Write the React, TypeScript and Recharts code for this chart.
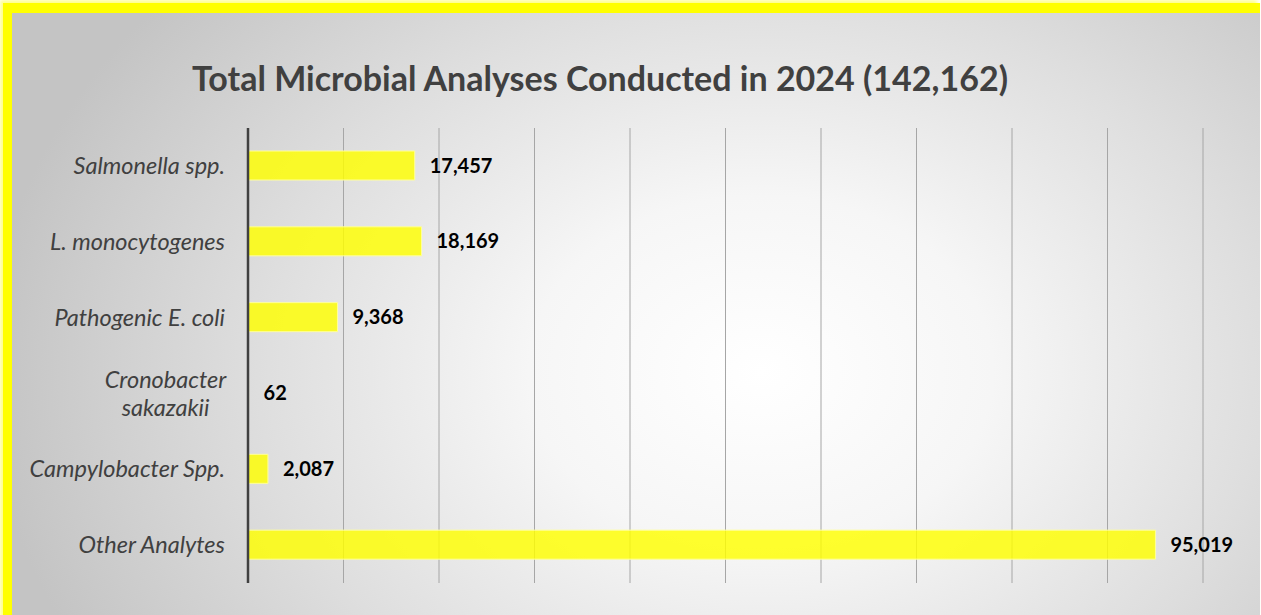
import { Bar, BarChart, CartesianGrid, LabelList, XAxis, YAxis } from 'recharts';

const categories = [
  'Salmonella spp.',
  'L. monocytogenes',
  'Pathogenic E. coli',
  'Cronobacter sakazakii',
  'Campylobacter Spp.',
  'Other Analytes',
];
const analyses = [17457, 18169, 9368, 62, 2087, 95019];
const xTicks = [0, 10000, 20000, 30000, 40000, 50000, 60000, 70000, 80000, 90000, 100000];

// long names wrap onto two lines, like the original
const wrapped: Record<string, string[]> = {
  'Cronobacter sakazakii': ['Cronobacter', 'sakazakii'],
};

const FONT = 'Lato, "Open Sans", sans-serif';
const CAT_SIZE = 23.5;

const data = categories.map((name, i) => ({ name, value: analyses[i] }));

const CategoryTick = ({ x, y, payload }: { x?: number; y?: number; payload?: { value: string } }) => {
  const label = payload?.value ?? '';
  const lines = wrapped[label] ?? [label];
  const style = { fontFamily: FONT, fontStyle: 'italic' as const, fontSize: CAT_SIZE, fill: '#404040' };
  if (lines.length === 1) {
    return (
      <text x={x} y={y} dy="0.35em" textAnchor="end" style={style}>
        {label}
      </text>
    );
  }
  // centre the lines on each other, block right-aligned to the axis
  const longest = Math.max(...lines.map((l) => l.length));
  const cx = (x ?? 0) - (longest * CAT_SIZE * 0.46) / 2;
  return (
    <text textAnchor="middle" style={style}>
      {lines.map((l, i) => (
        <tspan key={i} x={cx} y={(y ?? 0) + (i - (lines.length - 1) / 2) * 28} dy="0.35em">
          {l}
        </tspan>
      ))}
    </text>
  );
};

const NoTick = () => <g />;

export default function App() {
  return (
    <div
      style={{
        position: 'absolute',
        left: 0,
        top: 0,
        width: 1261,
        height: 615,
        overflow: 'hidden',
        background: '#ffffff',
      }}
    >
      <div
        style={{
          position: 'absolute',
          left: 3,
          top: 3,
          width: 1257,
          height: 700,
          boxSizing: 'border-box',
          borderTop: '10px solid #ffff00',
          borderLeft: '9px solid #ffff00',
          boxShadow: '-3px -3px 4px #ffff88',
          background:
            'radial-gradient(ellipse 62% 85% at 60% 52%, #ffffff 0%, #f6f6f6 30%, #dedede 65%, #c4c4c4 100%)',
        }}
      />
      <div
        style={{
          position: 'absolute',
          left: 0,
          top: 58,
          width: 1200,
          textAlign: 'center',
          fontFamily: FONT,
          fontWeight: 700,
          fontSize: 34,
          lineHeight: '40px',
          color: '#404040',
        }}
      >
        Total Microbial Analyses Conducted in 2024 (142,162)
      </div>
      <div style={{ position: 'absolute', left: 0, top: 0 }}>
        <BarChart
          width={1261}
          height={615}
          data={data}
          layout="vertical"
          margin={{ top: 128, right: 58, bottom: 27, left: 0 }}
        >
          <CartesianGrid vertical horizontal={false} stroke="#a6a6a6" strokeWidth={1} />
          <XAxis
            type="number"
            domain={[0, 100000]}
            ticks={xTicks}
            interval={0}
            axisLine={false}
            tickLine={false}
            tick={<NoTick />}
            height={5}
          />
          <YAxis
            type="category"
            dataKey="name"
            width={248}
            axisLine={{ stroke: '#404040', strokeWidth: 2.5 }}
            tickLine={false}
            tickSize={0}
            tickMargin={23}
            tick={<CategoryTick />}
            interval={0}
          />
          <Bar
            dataKey="value"
            barSize={29}
            fill="#ffff00"
            fillOpacity={0.82}
            stroke="#ffff99"
            strokeWidth={1}
            isAnimationActive={false}
          >
            <LabelList
              dataKey="value"
              position="right"
              offset={15}
              formatter={(v: number) => Number(v).toLocaleString('en-US')}
              style={{ fontFamily: FONT, fontWeight: 700, fontSize: 20, fill: '#000000' }}
            />
          </Bar>
        </BarChart>
      </div>
    </div>
  );
}
